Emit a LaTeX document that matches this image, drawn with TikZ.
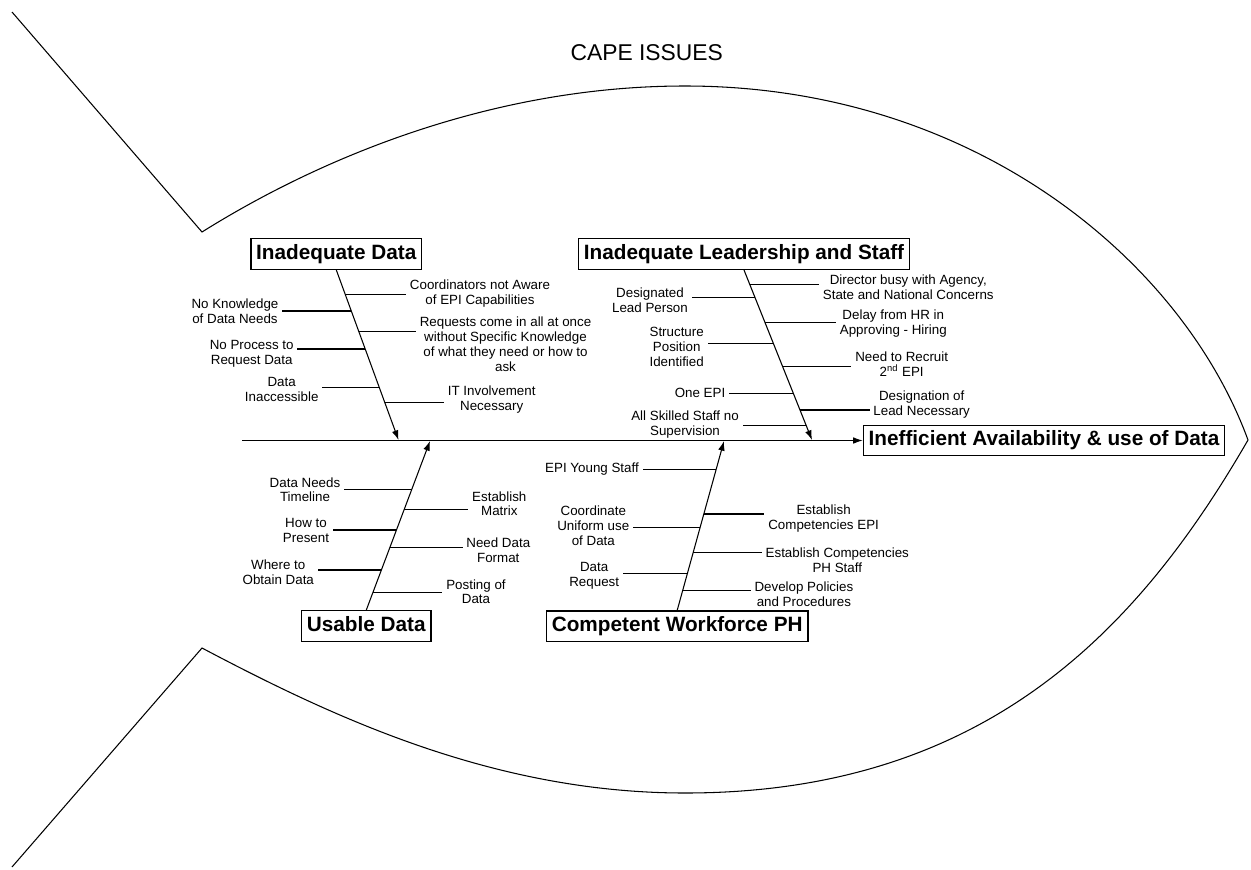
\documentclass[tikz,border=0pt]{standalone}
\usepackage{fontspec}
\setmainfont{Liberation Sans}
\usepackage{tikz}
\usetikzlibrary{arrows.meta}
\tikzset{>={Latex[length=5.5pt,width=3.8pt]}}
\tikzstyle{head} = [rectangle, draw=black, line width=0.8pt, font=\bfseries\fontsize{11.8}{13}\selectfont, inner sep=3pt, text height=8.8pt, text depth=2.6pt]
\tikzstyle{lbl} = [align=center, inner sep=2pt, font=\fontsize{7.6}{8.5}\selectfont]
\tikzstyle{bone} = [->, line width=0.6pt]
\tikzstyle{rib} = [-, line width=0.6pt]

\begin{document}
\begin{tikzpicture}[x=0.02cm, y=-0.02cm]
\useasboundingbox (0,0) rectangle (1251,869);
% fish outline
\coordinate (tail-t) at (12,12);
\coordinate (fin-t) at (202,232);
\coordinate (top) at (685,86);
\coordinate (nose) at (1248,440);
\coordinate (bot) at (685,793);
\coordinate (fin-b) at (202,648);
\coordinate (tail-b) at (12,867);
\draw [line width=0.6pt] (tail-t) -- (fin-t) .. controls (329,152.5) and (500,86) .. (top)
  .. controls (975,86) and (1182.6,261.6) .. (nose)
  .. controls (1138,630.5) and (985,793) .. (bot)
  .. controls (495,793) and (334.5,718) .. (fin-b) -- (tail-b);
\node [font=\fontsize{13}{15}\selectfont] (title) at (646.7,53) {CAPE ISSUES};

% head and spine
\node [head] (EF) at (1044,440.5) {Inefficient Availability \& use of Data};
\coordinate (spine-l) at (242,440.5);
\draw [bone] (spine-l) -- (EF.west);

% causes
\node [head] (ID) at (336.3,254) {Inadequate Data};
\node [head] (ILS) at (744,254) {Inadequate Leadership and Staff};
\node [head] (UD) at (366.3,626) {Usable Data};
\node [head] (CW) at (677.2,626.3) {Competent Workforce PH};
\coordinate (id-tip) at (398.5,440);
\coordinate (ils-tip) at (812,440);
\coordinate (ud-tip) at (430,441);
\coordinate (cw-tip) at (724,441);
\draw [bone] (ID.south) -- (id-tip);
\draw [bone] (ILS.south) -- (ils-tip);
\draw [bone] (UD.north) -- (ud-tip);
\draw [bone] (CW.north) -- (cw-tip);

% Inadequate Data
\foreach \ry/\lx/\ly/\nm/\sd/\txt in {
  294.3/480/293.4/cna/west/{Coordinators not Aware\\of EPI Capabilities},
  331.7/505.5/344/rcm/west/{Requests come in all at once\\without Specific Knowledge\\of what they need or how to\\ask},
  402.3/491.7/400/itn/west/{IT Involvement\\Necessary},
  311/235/311/nkd/east/{No Knowledge\\of Data Needs},
  349/251.7/354/npr/east/{No Process to\\Request Data},
  387.7/281.7/389.7/din/east/{Data\\Inaccessible}}
{
  \coordinate (\nm-b) at (intersection of ID.south--id-tip and 0,\ry--10,\ry);
  \node [lbl] (\nm) at (\lx,\ly) {\txt};
  \draw [rib] (\nm-b) -- (\nm-b -| \nm.\sd);
}

% Inadequate Leadership and Staff
\foreach \ry/\lx/\ly/\nm/\sd/\txt in {
  284.3/908.3/286.8/dbw/west/{Director busy with Agency,\\State and National Concerns},
  322.3/893.3/323.8/dhr/west/{Delay from HR in\\Approving - Hiring},
  366.7/901.7/364.2/nrr/west/{Need to Recruit\\2\textsuperscript{nd} EPI},
  410/921.7/404.2/dln/west/{Designation of\\Lead Necessary},
  297.7/650/300.3/dlp/east/{Designated\\Lead Person},
  343.3/676.7/346.8/spi/east/{Structure\\Position\\Identified},
  393.3/700/393.3/oep/east/{One EPI},
  425.7/685/424.8/ass/east/{All Skilled Staff no\\Supervision}}
{
  \coordinate (\nm-b) at (intersection of ILS.south--ils-tip and 0,\ry--10,\ry);
  \node [lbl] (\nm) at (\lx,\ly) {\txt};
  \draw [rib] (\nm-b) -- (\nm-b -| \nm.\sd);
}

% Usable Data
\foreach \ry/\lx/\ly/\nm/\sd/\txt in {
  489.3/305/489.7/dnt/east/{Data Needs\\Timeline},
  530/306/530.3/htp/east/{How to\\Present},
  570/278.3/571.8/wto/east/{Where to\\Obtain Data},
  509.3/499.3/503.7/ema/west/{Establish\\Matrix},
  547.7/498.3/550/ndf/west/{Need Data\\Format},
  592.3/476/591.7/pod/west/{Posting of\\Data}}
{
  \coordinate (\nm-b) at (intersection of UD.north--ud-tip and 0,\ry--10,\ry);
  \node [lbl] (\nm) at (\lx,\ly) {\txt};
  \draw [rib] (\nm-b) -- (\nm-b -| \nm.\sd);
}

% Competent Workforce PH
\foreach \ry/\lx/\ly/\nm/\sd/\txt in {
  469.3/592/469.3/eys/east/{EPI Young Staff},
  527.3/593.3/525.8/cuu/east/{Coordinate\\Uniform use\\of Data},
  573.3/594.2/575.8/dre/east/{Data\\Request},
  514/823.6/518.3/ece/west/{Establish\\Competencies EPI},
  552.7/837.3/560.5/ecp/west/{Establish Competencies\\PH Staff},
  590.7/803.9/594.2/dpp/west/{Develop Policies\\and Procedures}}
{
  \coordinate (\nm-b) at (intersection of CW.north--cw-tip and 0,\ry--10,\ry);
  \node [lbl] (\nm) at (\lx,\ly) {\txt};
  \draw [rib] (\nm-b) -- (\nm-b -| \nm.\sd);
}
\end{tikzpicture}
\end{document}
